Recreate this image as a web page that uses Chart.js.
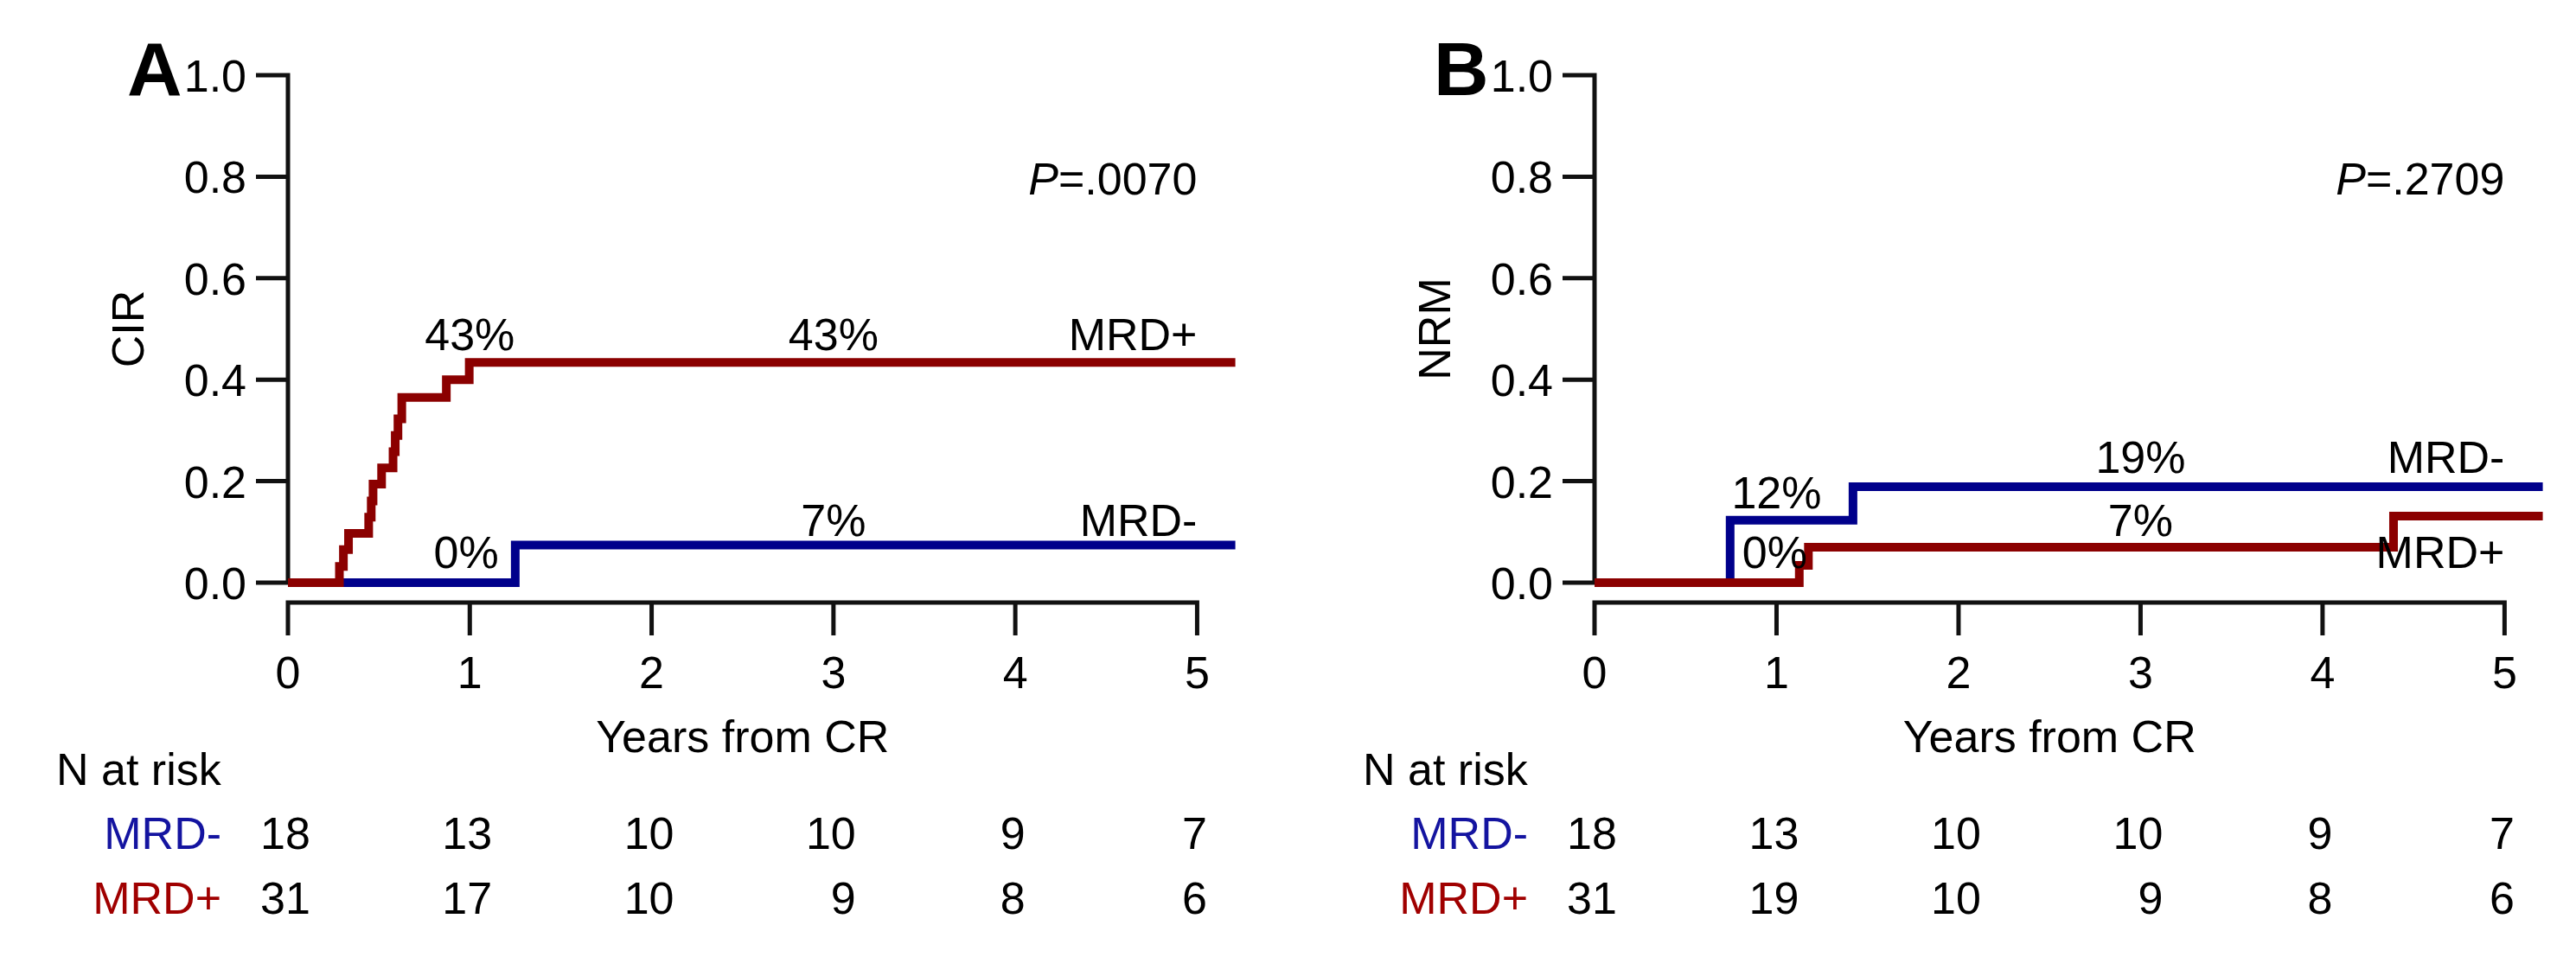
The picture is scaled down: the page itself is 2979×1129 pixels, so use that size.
<!DOCTYPE html>
<html>
<head>
<meta charset="utf-8">
<script src="https://cdn.jsdelivr.net/npm/chart.js@4.4.1/dist/chart.umd.min.js"></script>
<style>
    html, body { margin: 0; padding: 0; background: #fff; }
    #wrap { position: relative; width: 2979px; height: 1129px; overflow: hidden; }
    canvas { position: absolute; top: 0; }
</style>
</head>
<body>
<div id="wrap">
    <canvas id="cirChart" width="1490" height="1129" style="left:0"></canvas>
    <canvas id="nrmChart" width="1489" height="1129" style="left:1490px"></canvas>
</div>
<script>
// Axis ticks
const yTicks = [0, 0.2, 0.4, 0.6, 0.8, 1.0];
const xTicks = [0, 1, 2, 3, 4, 5];
const groupNames = ['MRD-', 'MRD+'];

// Panel A - cumulative incidence of relapse
const cirNegTimes = [0, 1.25, 5.21];
const cirNegValues = [0, 0.074, 0.074];
const cirPosTimes = [0, 0.283, 0.305, 0.333, 0.444, 0.458, 0.468, 0.515, 0.578, 0.59, 0.605, 0.626, 0.871, 0.997, 5.21];
const cirPosValues = [0, 0.032, 0.065, 0.097, 0.129, 0.161, 0.194, 0.226, 0.258, 0.290, 0.323, 0.365, 0.400, 0.434, 0.434];
const cirRiskNeg = [18, 13, 10, 10, 9, 7];
const cirRiskPos = [31, 17, 10, 9, 8, 6];
// [text, x (years), y (baseline value), align]
const cirLabels = [
    ['43%', 1.0, 0.458, 'center'],
    ['43%', 3.0, 0.458, 'center'],
    ['MRD+', 5.0, 0.458, 'right'],
    ['0%', 0.98, 0.029, 'center'],
    ['7%', 3.0, 0.092, 'center'],
    ['MRD-', 5.0, 0.092, 'right']
];

// Panel B - non-relapse mortality
const nrmNegTimes = [0, 0.745, 1.42, 5.21];
const nrmNegValues = [0, 0.123, 0.189, 0.189];
const nrmPosTimes = [0, 1.125, 1.175, 4.39, 5.21];
const nrmPosValues = [0, 0.034, 0.070, 0.131, 0.131];
const nrmRiskNeg = [18, 13, 10, 10, 9, 7];
const nrmRiskPos = [31, 19, 10, 9, 8, 6];
const nrmLabels = [
    ['12%', 1.0, 0.147, 'center'],
    ['19%', 3.0, 0.216, 'center'],
    ['MRD-', 5.0, 0.216, 'right'],
    ['7%', 3.0, 0.092, 'center'],
    ['0%', 0.99, 0.029, 'center'],
    ['MRD+', 5.0, 0.029, 'right']
];

const RED = '#8b0000';
const BLUE = '#00008b';
const FONT = '"Liberation Sans", Arial, sans-serif';

function fnt(size, style) {
    return (style ? style + ' ' : '') + size + 'px ' + FONT;
}

function toPoints(times, values) {
    return times.map((t, i) => ({ x: t, y: values[i] }));
}

// Draws the detached axes, labels and the numbers-at-risk table
const kmDecor = {
    id: 'kmDecor',
    beforeDatasetsDraw(chart) {
        const ctx = chart.ctx;
        const xs = chart.scales.x, ys = chart.scales.y;
        const x0 = xs.getPixelForValue(0);
        const axisY = ys.getPixelForValue(0) + 23;

        ctx.save();
        ctx.strokeStyle = '#111';
        ctx.lineWidth = 5;
        ctx.beginPath();
        // y axis
        ctx.moveTo(x0, ys.getPixelForValue(0) + 2.5);
        ctx.lineTo(x0, ys.getPixelForValue(1) - 2.5);
        yTicks.forEach(v => {
            const y = ys.getPixelForValue(v);
            ctx.moveTo(x0, y);
            ctx.lineTo(x0 - 37, y);
        });
        // x axis
        ctx.moveTo(x0 - 2.5, axisY);
        ctx.lineTo(xs.getPixelForValue(5) + 2.5, axisY);
        xTicks.forEach(v => {
            const x = xs.getPixelForValue(v);
            ctx.moveTo(x, axisY);
            ctx.lineTo(x, axisY + 38);
        });
        ctx.stroke();
        ctx.restore();
    },
    afterDatasetsDraw(chart) {
        const o = chart.options.plugins.kmDecor;
        const ctx = chart.ctx;
        const xs = chart.scales.x, ys = chart.scales.y;
        const x0 = xs.getPixelForValue(0);
        const axisY = ys.getPixelForValue(0) + 23;

        ctx.save();
        ctx.fillStyle = '#000';
        ctx.textBaseline = 'alphabetic';

        // panel letter
        ctx.font = fnt(88, 'bold');
        ctx.textAlign = 'left';
        ctx.fillText(o.letter, x0 - 186, ys.getPixelForValue(1) + 23);

        // y tick labels
        ctx.font = fnt(52);
        ctx.textAlign = 'right';
        yTicks.forEach(v => {
            ctx.fillText(v.toFixed(1), x0 - 48, ys.getPixelForValue(v) + 19);
        });

        // x tick labels
        ctx.textAlign = 'center';
        xTicks.forEach(v => {
            ctx.fillText(String(v), xs.getPixelForValue(v), axisY + 99);
        });
        ctx.fillText('Years from CR', xs.getPixelForValue(2.5), axisY + 173);

        // y title
        ctx.save();
        ctx.translate(x0 - 167, ys.getPixelForValue(0.5));
        ctx.rotate(-Math.PI / 2);
        ctx.textAlign = 'center';
        ctx.fillText(o.yTitle, 0, 0);
        ctx.restore();

        // P value, italic P
        const pRight = xs.getPixelForValue(5);
        const pY = ys.getPixelForValue(1) + 138;
        ctx.font = fnt(52);
        const restW = ctx.measureText(o.pValue).width;
        ctx.font = fnt(52, 'italic');
        const pW = ctx.measureText('P').width;
        ctx.textAlign = 'left';
        ctx.fillText('P', pRight - restW - pW, pY);
        ctx.font = fnt(52);
        ctx.fillText(o.pValue, pRight - restW, pY);

        // curve labels
        o.labels.forEach(([txt, lx, ly, align]) => {
            ctx.textAlign = align;
            ctx.fillText(txt, xs.getPixelForValue(lx), ys.getPixelForValue(ly));
        });

        // numbers at risk
        ctx.textAlign = 'left';
        ctx.fillText('N at risk', x0 - 268, axisY + 211);
        const rows = [o.riskNeg, o.riskPos];
        const rowY = [axisY + 285, axisY + 360];
        const rowColors = ['#1414a0', '#a00000'];
        ctx.textAlign = 'right';
        groupNames.forEach((g, r) => {
            ctx.fillStyle = rowColors[r];
            ctx.fillText(g, x0 - 77, rowY[r]);
        });
        ctx.fillStyle = '#000';
        xTicks.forEach((t, i) => {
            const w = Math.max(...rows.map(row => ctx.measureText(String(row[i])).width));
            const right = xs.getPixelForValue(t) + w / 2 - 3;
            rows.forEach((row, r) => ctx.fillText(String(row[i]), right, rowY[r]));
        });
        ctx.restore();
    }
};

function makePanel(id, cfg) {
    const ctx = document.getElementById(id).getContext('2d');
    return new Chart(ctx, {
        type: 'line',
        data: {
            datasets: [{
                label: 'MRD+',
                data: toPoints(cfg.posTimes, cfg.posValues),
                borderColor: RED,
                borderWidth: 10,
                stepped: 'before',
                pointRadius: 0,
                fill: false,
                clip: false
            }, {
                label: 'MRD-',
                data: toPoints(cfg.negTimes, cfg.negValues),
                borderColor: BLUE,
                borderWidth: 10,
                stepped: 'before',
                pointRadius: 0,
                fill: false,
                clip: false
            }]
        },
        options: {
            responsive: false,
            devicePixelRatio: 1,
            animation: false,
            events: [],
            layout: { padding: cfg.padding },
            scales: {
                x: { type: 'linear', min: 0, max: 5.25, display: false },
                y: { type: 'linear', min: 0, max: 1, display: false }
            },
            plugins: {
                legend: { display: false },
                tooltip: { enabled: false },
                kmDecor: {
                    letter: cfg.letter,
                    yTitle: cfg.yTitle,
                    pValue: cfg.pValue,
                    labels: cfg.labels,
                    riskNeg: cfg.riskNeg,
                    riskPos: cfg.riskPos
                }
            }
        },
        plugins: [kmDecor]
    });
}

makePanel('cirChart', {
    letter: 'A', yTitle: 'CIR', pValue: '=.0070',
    posTimes: cirPosTimes, posValues: cirPosValues,
    negTimes: cirNegTimes, negValues: cirNegValues,
    riskNeg: cirRiskNeg, riskPos: cirRiskPos,
    labels: cirLabels,
    padding: { left: 333, top: 87, right: 53, bottom: 455 }
});

makePanel('nrmChart', {
    letter: 'B', yTitle: 'NRM', pValue: '=.2709',
    posTimes: nrmPosTimes, posValues: nrmPosValues,
    negTimes: nrmNegTimes, negValues: nrmNegValues,
    riskNeg: nrmRiskNeg, riskPos: nrmRiskPos,
    labels: nrmLabels,
    padding: { left: 354, top: 87, right: 30, bottom: 455 }
});
</script>
</body>
</html>
